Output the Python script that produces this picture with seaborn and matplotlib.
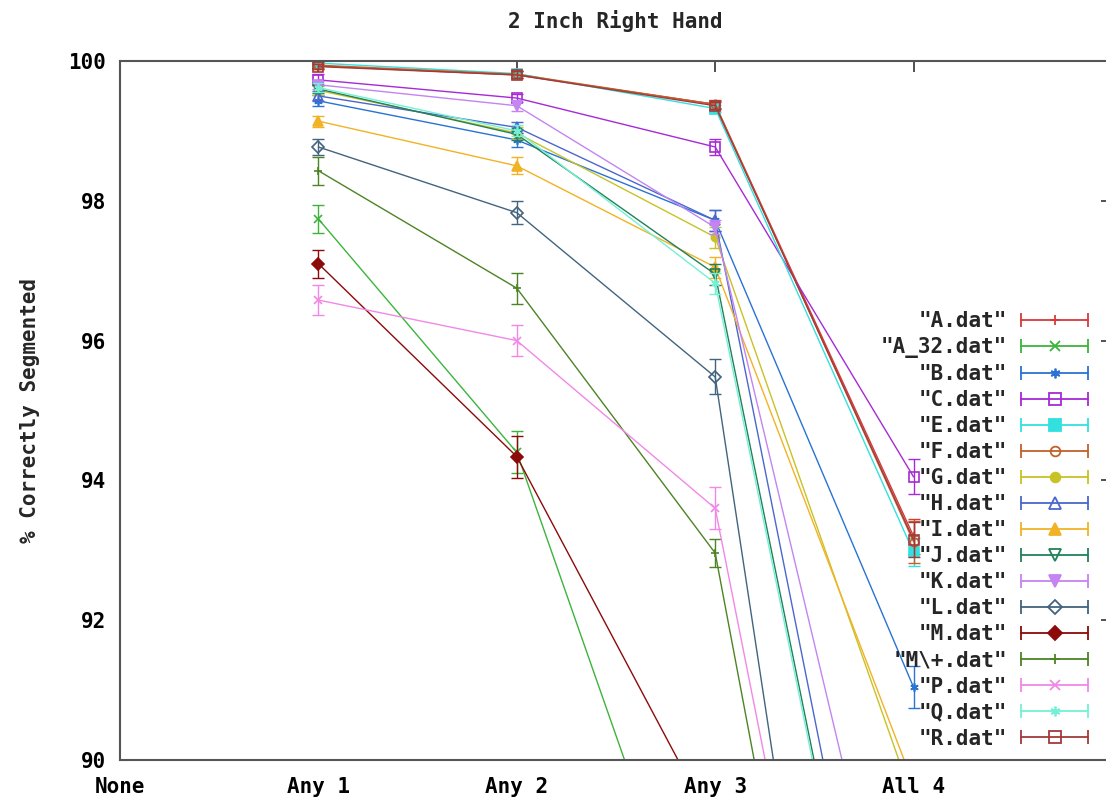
import pandas as pd
import matplotlib
matplotlib.use("Agg")
import matplotlib.pyplot as plt
import seaborn as sns
from matplotlib.lines import Line2D
from matplotlib.legend_handler import HandlerLine2D, HandlerTuple

# x categories
steps = ["None", "Any 1", "Any 2", "Any 3", "All 4"]
x_pos = [1, 2, 3, 4]

# % correctly segmented for Any 1, Any 2, Any 3, All 4
A = [99.93, 99.80, 99.38, 93.20]
A_32 = [97.74, 94.40, 86.30, 80.00]
B = [99.43, 98.87, 97.72, 91.04]
C = [99.73, 99.47, 98.77, 94.05]
E = [99.97, 99.82, 99.32, 92.97]
F = [99.94, 99.81, 99.38, 93.12]
G = [99.58, 98.97, 97.48, 89.40]
H = [99.50, 99.05, 97.72, 83.50]
I = [99.14, 98.50, 97.05, 89.65]
J = [99.60, 98.95, 96.95, 83.00]
K = [99.66, 99.36, 97.62, 85.70]
L = [98.77, 97.83, 95.48, 76.80]
M = [97.10, 94.34, 89.00, 80.00]
M_plus = [98.43, 96.75, 92.96, 77.90]
P = [96.58, 96.00, 93.60, 79.30]
Q = [99.62, 99.00, 96.82, 82.90]
R = [99.92, 99.80, 99.36, 93.15]

# error bar half-widths
A_err = [0.05, 0.05, 0.05, 0.25]
A_32_err = [0.20, 0.30, 0.30, 0.30]
B_err = [0.08, 0.10, 0.15, 0.30]
C_err = [0.08, 0.06, 0.12, 0.25]
E_err = [0.03, 0.04, 0.05, 0.20]
F_err = [0.04, 0.05, 0.06, 0.30]
G_err = [0.06, 0.08, 0.15, 0.30]
H_err = [0.07, 0.08, 0.15, 0.30]
I_err = [0.08, 0.12, 0.15, 0.30]
J_err = [0.06, 0.08, 0.15, 0.30]
K_err = [0.06, 0.08, 0.10, 0.30]
L_err = [0.12, 0.16, 0.25, 0.30]
M_err = [0.20, 0.30, 0.30, 0.30]
M_plus_err = [0.20, 0.22, 0.20, 0.30]
P_err = [0.22, 0.22, 0.30, 0.30]
Q_err = [0.06, 0.08, 0.15, 0.30]
R_err = [0.04, 0.05, 0.05, 0.25]

labels = ['"A.dat"', '"A_32.dat"', '"B.dat"', '"C.dat"', '"E.dat"', '"F.dat"',
          '"G.dat"', '"H.dat"', '"I.dat"', '"J.dat"', '"K.dat"', '"L.dat"',
          '"M.dat"', '"M\\+.dat"', '"P.dat"', '"Q.dat"', '"R.dat"']
values = [A, A_32, B, C, E, F, G, H, I, J, K, L, M, M_plus, P, Q, R]
errors = [A_err, A_32_err, B_err, C_err, E_err, F_err, G_err, H_err, I_err,
          J_err, K_err, L_err, M_err, M_plus_err, P_err, Q_err, R_err]

colors = ["#d63a3a", "#3cb43c", "#2a72d4", "#a62ad6", "#33e0e0", "#c2602a",
          "#c8c226", "#4a68cc", "#f2b226", "#22805a", "#c484f2", "#42647e",
          "#8c0a0a", "#4c8424", "#f288e6", "#74f0d4", "#a23a3a"]
asterisk = (6, 2, 0)
markers = ["+", "x", asterisk, "s", "s", "o", "o", "^", "^", "v", "v", "D",
           "D", "+", "x", asterisk, "s"]
filled = [True, True, True, False, True, False, True, False, True, False,
          True, False, True, True, True, True, False]

rows = []
for lab, vals, errs in zip(labels, values, errors):
    for xp, v, e in zip(x_pos, vals, errs):
        rows.append({"series": lab, "x": xp, "y": v, "err": e})
df = pd.DataFrame(rows)

sns.set_style("white")
plt.rcParams["font.family"] = ["DejaVu Sans Mono"]
plt.rcParams["font.weight"] = "bold"
FS = 15

fig = plt.figure(figsize=(11.06, 8), dpi=100)
ax = fig.add_axes([120 / 1106, 40 / 800, (1112 - 120) / 1106, (760 - 61) / 800])


class CapLine(Line2D):
    pass


handles = []
for lab, col, mk, fl in zip(labels, colors, markers, filled):
    d = df[df["series"] == lab]
    mfc = col if fl else "none"
    ms = 7 if mk in ("s", "^", "v") else 6
    sns.lineplot(data=d, x="x", y="y", ax=ax, color=col, linewidth=1.0,
                 marker=mk, markersize=ms, markerfacecolor=mfc,
                 markeredgecolor=col, markeredgewidth=1.2, sort=False)
    ax.errorbar(d["x"], d["y"], yerr=d["err"], fmt="none", ecolor=col,
                elinewidth=1.0, capsize=4, capthick=1.0)
    h_line = Line2D([0], [0], color=col, linewidth=1.3, marker=mk,
                    markersize=ms + 1, markerfacecolor=mfc,
                    markeredgecolor=col, markeredgewidth=1.3)
    h_cap = CapLine([0], [0], color=col, linestyle="none", marker="|",
                    markersize=10, markeredgewidth=1.3)
    handles.append((h_line, h_cap))

ax.set_xlim(0, 5)
ax.set_ylim(90, 100)
ax.set_xticks(range(5))
ax.set_xticklabels(steps)
ax.set_yticks(range(90, 101, 2))
ax.set_xlabel("")
ax.set_ylabel("% Correctly Segmented", fontsize=FS, fontweight="bold")
ax.yaxis.set_label_coords(-80 / 992, 0.5)
ax.tick_params(axis="both", direction="in", length=8, width=1.2,
               top=True, right=True, labelsize=FS, colors="#333333",
               labelcolor="black")
ax.tick_params(axis="x", pad=12)
ax.tick_params(axis="y", pad=10)
for s in ax.spines.values():
    s.set_color("#555555")
    s.set_linewidth(1.5)

fig.text(615 / 1106, 1 - 21 / 800, "2 Inch Right Hand", ha="center", va="center",
         fontsize=FS, fontweight="bold")

leg = ax.legend(handles, labels, loc="upper right",
                bbox_to_anchor=(1088 / 1106, 1 - 311 / 800),
                bbox_transform=fig.transFigure, frameon=False,
                markerfirst=False, handlelength=3.2, handletextpad=0.7,
                labelspacing=0.29, borderpad=0, borderaxespad=0,
                prop={"family": "DejaVu Sans Mono", "weight": "bold", "size": FS},
                handler_map={tuple: HandlerTuple(ndivide=1, pad=0),
                             CapLine: HandlerLine2D(numpoints=2, marker_pad=0)})
for t in leg.get_texts():
    t.set_ha("right")

fig.savefig("out.png", dpi=100)
